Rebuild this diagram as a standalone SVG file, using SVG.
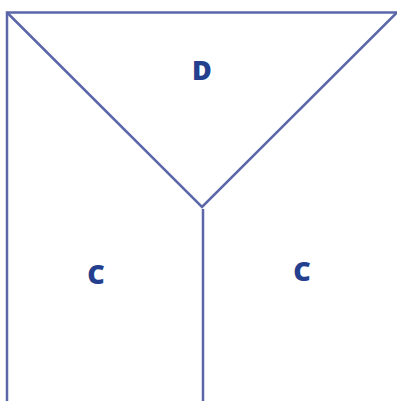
<svg xmlns="http://www.w3.org/2000/svg" width="397" height="401" viewBox="0 0 397 401">
<style>
.ln{fill:none;stroke:#5c67a9;stroke-width:2.5;stroke-linejoin:miter}
.lb{font-family:"Open Sans","Liberation Sans",sans-serif;font-weight:800;font-size:27px;fill:#253f8f;text-anchor:middle;dominant-baseline:central}
</style>
<rect width="397" height="401" fill="#ffffff"/>
<g id="connectors">
<path class="ln" d="M7,401 V12.5 H397"/>
<path class="ln" d="M7,12.5 L202,207 L397,12.5"/>
<path class="ln" d="M203,209 V401"/>
</g>
<g id="node-D"><text class="lb" x="202" y="69">D</text></g>
<g id="node-C1"><text class="lb" x="96" y="273">C</text></g>
<g id="node-C2"><text class="lb" x="302" y="270">C</text></g>
</svg>
